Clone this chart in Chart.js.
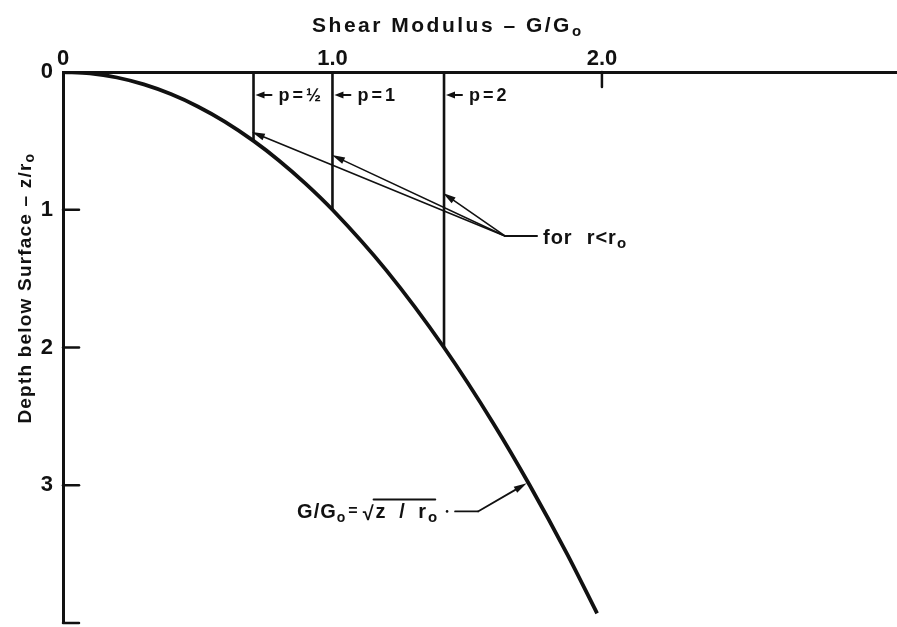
<!DOCTYPE html>
<html>
<head>
<meta charset="utf-8">
<script src="https://cdn.jsdelivr.net/npm/chart.js@4/dist/chart.umd.min.js"></script>
<style>
  html, body { margin: 0; padding: 0; background: #fff; }
  canvas { display: block; }
</style>
</head>
<body>
<canvas id="c" width="897" height="627"></canvas>
<script>
// Shear modulus G/G0 against depth z/r0 along G/G0 = sqrt(z/r0)
const depth   = [0, 0.01, 0.04, 0.09, 0.16, 0.25, 0.36, 0.5, 0.64, 0.81, 1.0, 1.44, 2.0, 2.56, 3.0, 3.5, 3.93];
const modulus = [0, 0.1, 0.2, 0.3, 0.4, 0.5, 0.6, 0.707, 0.8, 0.9, 1.0, 1.2, 1.414, 1.6, 1.732, 1.871, 1.982];

// Vertical lines for each p value: modulus at the line, depth where it meets the curve
const pLabels  = ['p=½', 'p=1', 'p=2'];
const pModulus = [0.707, 1.0, 1.414];
const pDepth   = [0.5, 1.0, 2.0];
const pLabelDepth = 0.167;

// Axis ticks
const xTicks = [0, 1, 2];
const xTickLabels = ['0', '1.0', '2.0'];
const yTicks = [0, 1, 2, 3, 4];
const yTickLabels = ['0', '1', '2', '3', ''];

// Leader arrows of the "for r<r0" note, in [G/G0, z/r0]
const noteOrigin = [1.640, 1.19];
const noteEnd    = [1.759, 1.19];
const noteTipsG  = [0.701, 0.998, 1.410];
const noteTipsZ  = [0.436, 0.603, 0.878];

// Leader of the curve formula label, in [G/G0, z/r0]
const formulaTip  = [1.732, 3.0];
const formulaKnee = [1.54, 3.19];
const formulaDash = [1.455, 3.19];

const INK = '#111';
const FONT = '"Liberation Sans", Arial, sans-serif';

function arrow(ctx, x1, y1, x2, y2, len, half) {
  const a = Math.atan2(y2 - y1, x2 - x1);
  ctx.beginPath();
  ctx.moveTo(x1, y1);
  ctx.lineTo(x2 - Math.cos(a) * len * 0.6, y2 - Math.sin(a) * len * 0.6);
  ctx.stroke();
  ctx.beginPath();
  ctx.moveTo(x2, y2);
  ctx.lineTo(x2 - Math.cos(a) * len + Math.sin(a) * half, y2 - Math.sin(a) * len - Math.cos(a) * half);
  ctx.lineTo(x2 - Math.cos(a) * len - Math.sin(a) * half, y2 - Math.sin(a) * len + Math.cos(a) * half);
  ctx.closePath();
  ctx.fill();
}

const notes = {
  id: 'notes',
  afterDatasetsDraw(chart) {
    const { ctx } = chart;
    const xs = chart.scales.x, ys = chart.scales.y;
    const X = v => xs.getPixelForValue(v);
    const Y = v => ys.getPixelForValue(v);
    ctx.save();
    ctx.strokeStyle = INK;
    ctx.fillStyle = INK;
    ctx.lineCap = 'round';

    // inward tick marks
    ctx.lineWidth = 2.5;
    yTicks.forEach(v => {
      if (v === 0) return;
      ctx.beginPath();
      ctx.moveTo(X(0), Y(v));
      ctx.lineTo(X(0) + 16, Y(v));
      ctx.stroke();
    });
    ctx.beginPath();
    ctx.moveTo(X(2), Y(0));
    ctx.lineTo(X(2), Y(0) + 15);
    ctx.stroke();

    // p labels with small arrows pointing to their lines
    ctx.lineWidth = 2;
    ctx.font = 'bold 18px ' + FONT;
    ctx.textBaseline = 'middle';
    ctx.letterSpacing = '3px';
    pLabels.forEach((t, i) => {
      const x = X(pModulus[i]), y = Y(pLabelDepth);
      arrow(ctx, x + 18, y, x + 2, y, 9, 3.5);
      ctx.fillText(t, x + 25, y + 1);
    });

    // "for r<r0" note
    ctx.lineWidth = 1.6;
    const ox = X(noteOrigin[0]), oy = Y(noteOrigin[1]);
    noteTipsG.forEach((g, i) => arrow(ctx, ox, oy, X(g), Y(noteTipsZ[i]), 13, 3.5));
    ctx.lineWidth = 2;
    ctx.beginPath();
    ctx.moveTo(ox, oy);
    ctx.lineTo(X(noteEnd[0]), oy);
    ctx.stroke();
    ctx.font = 'bold 20px ' + FONT;
    ctx.letterSpacing = '1px';
    ctx.textBaseline = 'alphabetic';
    let tx = X(noteEnd[0]) + 6;
    ctx.fillText('for', tx, oy + 8);
    tx += ctx.measureText('for').width + 14;
    ctx.fillText('r<r', tx, oy + 8);
    tx += ctx.measureText('r<r').width;
    ctx.font = 'bold 15px ' + FONT;
    ctx.fillText('o', tx, oy + 12);

    // formula label and its leader
    ctx.lineWidth = 1.8;
    const kx = X(formulaKnee[0]), ky = Y(formulaKnee[1]);
    ctx.beginPath();
    ctx.moveTo(X(formulaDash[0]), ky);
    ctx.lineTo(kx, ky);
    ctx.stroke();
    arrow(ctx, kx, ky, X(formulaTip[0]) - 3, Y(formulaTip[1]) - 2, 13, 3.5);
    ctx.beginPath();
    ctx.arc(X(formulaDash[0]) - 8, ky, 1.3, 0, Math.PI * 2);
    ctx.fill();

    ctx.font = 'bold 20px ' + FONT;
    ctx.letterSpacing = '1px';
    let fx = X(formulaDash[0]) - 158, fy = ky + 7;
    ctx.fillText('G/G', fx, fy);
    fx += ctx.measureText('G/G').width;
    ctx.font = 'bold 14px ' + FONT;
    ctx.fillText('o', fx, fy + 4);
    fx += ctx.measureText('o').width + 2;
    ctx.font = 'bold 16px ' + FONT;
    ctx.fillText('=', fx, fy - 2);
    fx += ctx.measureText('=').width + 4;
    ctx.font = 'bold 20px ' + FONT;
    ctx.fillText('√', fx, fy + 2);
    fx += ctx.measureText('√').width - 1;
    const rootStart = fx;
    ctx.letterSpacing = '4px';
    ctx.fillText('z / r', fx + 2, fy);
    fx += ctx.measureText('z / r').width + 2;
    ctx.font = 'bold 15px ' + FONT;
    ctx.letterSpacing = '0px';
    ctx.fillText('o', fx - 2, fy + 4);
    fx += ctx.measureText('o').width;
    ctx.lineWidth = 2;
    ctx.beginPath();
    ctx.moveTo(rootStart, fy - 19);
    ctx.lineTo(fx - 4, fy - 19);
    ctx.stroke();

    // axis titles
    ctx.font = 'bold 21px ' + FONT;
    ctx.letterSpacing = '2.5px';
    ctx.textBaseline = 'alphabetic';
    const xt = 'Shear Modulus – G/G';
    const xw = ctx.measureText(xt).width;
    let ax = 448 - xw / 2 - 6;
    ctx.fillText(xt, ax, 32);
    ctx.font = 'bold 15px ' + FONT;
    ctx.fillText('o', ax + xw, 36);

    ctx.translate(24, 288);
    ctx.rotate(-Math.PI / 2);
    ctx.font = 'bold 19px ' + FONT;
    ctx.letterSpacing = '1.2px';
    const yt = 'Depth below Surface – z/r';
    const yw = ctx.measureText(yt).width;
    ctx.fillText(yt, -yw / 2 - 5, 7);
    ctx.font = 'bold 14px ' + FONT;
    ctx.fillText('o', yw / 2 - 5, 10);
    ctx.restore();
  }
};

const datasets = [{
  data: depth.map((z, i) => ({ x: modulus[i], y: z })),
  borderColor: INK,
  borderWidth: 3.8,
  pointRadius: 0,
  showLine: true,
  cubicInterpolationMode: 'monotone',
  fill: false
}];
pModulus.forEach((g, i) => {
  datasets.push({
    data: [{ x: g, y: 0 }, { x: g, y: pDepth[i] }],
    borderColor: INK,
    borderWidth: 2.6,
    pointRadius: 0,
    showLine: true,
    fill: false
  });
});

// keep the plot area edges where the axes are drawn, without label overhang
const noOverhang = s => {
  s.paddingTop = 0; s.paddingBottom = 0; s.paddingLeft = 0; s.paddingRight = 0;
};

new Chart(document.getElementById('c'), {
  type: 'scatter',
  data: { datasets },
  options: {
    responsive: false,
    animation: false,
    layout: { padding: { left: 0, right: 0, top: 0, bottom: 4 } },
    plugins: { legend: { display: false }, tooltip: { enabled: false } },
    scales: {
      x: {
        type: 'linear',
        position: 'top',
        min: 0,
        max: 3.095,
        afterBuildTicks: s => { s.ticks = xTicks.map(v => ({ value: v })); },
        afterFit: s => { s.height = 72; noOverhang(s); },
        ticks: {
          autoSkip: false,
          maxRotation: 0,
          padding: 0,
          color: INK,
          font: { family: FONT, size: 22, weight: 'bold' },
          callback: (v, i) => xTickLabels[i]
        },
        grid: { display: true, drawOnChartArea: false, drawTicks: false },
        border: { display: true, color: INK, width: 3 }
      },
      y: {
        type: 'linear',
        position: 'left',
        reverse: true,
        min: 0,
        max: 4,
        afterBuildTicks: s => { s.ticks = yTicks.map(v => ({ value: v })); },
        afterFit: s => { s.width = 63; noOverhang(s); },
        ticks: {
          autoSkip: false,
          padding: 10,
          color: INK,
          font: { family: FONT, size: 22, weight: 'bold' },
          callback: (v, i) => yTickLabels[i]
        },
        grid: { display: true, drawOnChartArea: false, drawTicks: false },
        border: { display: true, color: INK, width: 3 }
      }
    }
  },
  plugins: [notes]
});
</script>
</body>
</html>
